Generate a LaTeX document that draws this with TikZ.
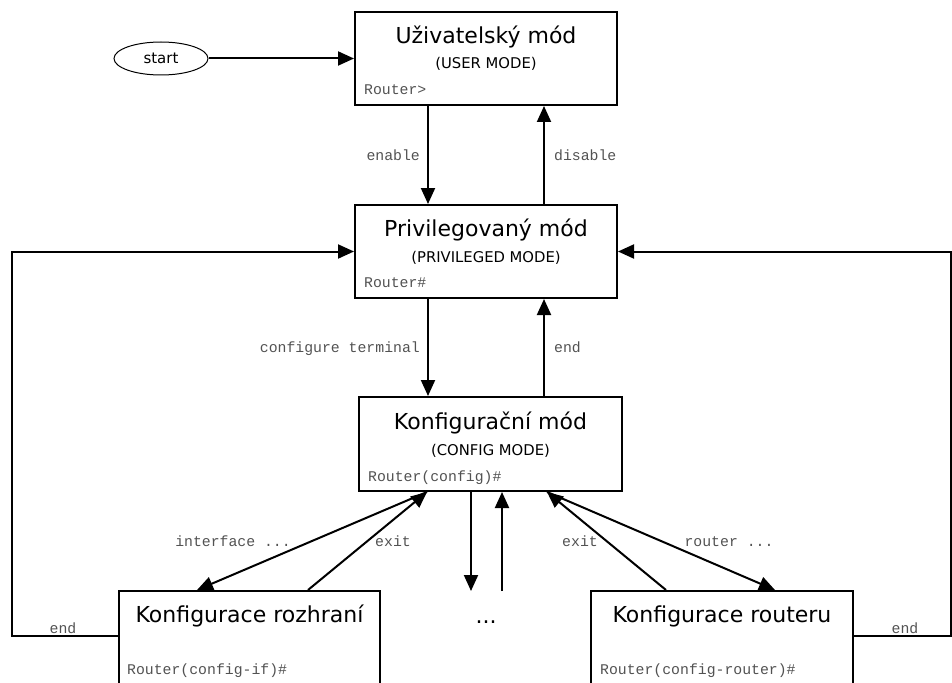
\documentclass[tikz,border=0pt]{standalone}
\usepackage{fontspec}
\setmainfont{DejaVu Sans}
\newfontfamily\monofont{Liberation Mono}
\usetikzlibrary{arrows.meta,shapes.geometric}
\begin{document}
\begin{tikzpicture}[x=1pt,y=-1pt,
  modebox/.style={draw, line width=2pt, rectangle, inner sep=0pt, fill=white},
  titletext/.style={font=\fontsize{22}{26}\selectfont, anchor=base, inner sep=0pt},
  subtext/.style={font=\fontsize{14.8}{17}\selectfont, anchor=base, inner sep=0pt},
  prompt/.style={font=\monofont\fontsize{14.8}{17}\selectfont, text=black!68, anchor=base west, inner sep=0pt},
  lbl/.style={font=\monofont\fontsize{14.8}{17}\selectfont, text=black!68, anchor=base, inner sep=0pt},
  conn/.style={line width=2pt},
  arr/.style={conn, -{Triangle[length=16pt,width=14pt]}},
]
\useasboundingbox (0,0) rectangle (952,682);
\clip (0,0) rectangle (952,682);

% boxes
\node[modebox, minimum width=262pt, minimum height=93pt] (user) at (486,58.5) {};
\node[modebox, minimum width=262pt, minimum height=93pt] (priv) at (486,251.5) {};
\node[modebox, minimum width=263pt, minimum height=94pt] (config) at (490.5,444) {};
\node[modebox, minimum width=261pt, minimum height=120pt] (roz) at (249.5,651) {};
\node[modebox, minimum width=262pt, minimum height=120pt] (rout) at (722,651) {};

% box texts
\node[titletext] (userT) at ([yshift=-33pt]user.north) {Uživatelský mód};
\node[subtext] (userS) at ([yshift=-58pt]user.north) {(USER MODE)};
\node[prompt] (userP) at ([xshift=10pt,yshift=-84pt]user.north west) {Router>};

\node[titletext] (privT) at ([yshift=-32pt]priv.north) {Privilegovaný mód};
\node[subtext] (privS) at ([yshift=-58pt]priv.north) {(PRIVILEGED MODE)};
\node[prompt] (privP) at ([xshift=10pt,yshift=-83pt]priv.north west) {Router\#};

\node[titletext] (confT) at ([yshift=-33pt]config.north) {Konfigurační mód};
\node[subtext] (confS) at ([yshift=-59pt]config.north) {(CONFIG MODE)};
\node[prompt] (confP) at ([xshift=10pt,yshift=-85pt]config.north west) {Router(config)\#};

\node[titletext] (rozT) at ([yshift=-32pt]roz.north) {Konfigurace rozhraní};
\node[prompt] (rozP) at ([xshift=9pt,yshift=-84pt]roz.north west) {Router(config-if)\#};

\node[titletext] (routT) at ([yshift=-32pt]rout.north) {Konfigurace routeru};
\node[prompt] (routP) at ([xshift=10pt,yshift=-84pt]rout.north west) {Router(config-router)\#};

\node[titletext] (dots) at (486,623) {...};

% start
\node[ellipse, draw, line width=1pt, minimum width=94pt, minimum height=33pt, inner sep=0pt,
      font=\fontsize{15}{18}\selectfont] (start) at (161,58.5) {start};

% coordinates
\coordinate (dIn) at (471,591);
\coordinate (dOut) at (502,591);
\coordinate (lc) at (12,251.5);
\coordinate (rc) at (950.5,251.5);

% connectors
\draw[arr] (start.east) -- (user.west);
\draw[arr] ([xshift=-58pt]user.south) -- ([xshift=-58pt]priv.north);
\draw[arr] ([xshift=58pt]priv.north) -- ([xshift=58pt]user.south);
\draw[arr] ([xshift=-58pt]priv.south) -- ([xshift=-62.5pt]config.north);
\draw[arr] ([xshift=53.5pt]config.north) -- ([xshift=58pt]priv.south);
\draw[arr] ([xshift=-19.5pt]config.south) -- (dIn);
\draw[arr] (dOut) -- ([xshift=11.5pt]config.south);

\draw[arr] ([xshift=-63.5pt]config.south) -- ([xshift=-52.5pt]roz.north);
\draw[arr] ([xshift=58.5pt]roz.north) -- ([xshift=-63.5pt]config.south);
\draw[arr] ([xshift=-56pt]rout.north) -- ([xshift=56.5pt]config.south);
\draw[arr] ([xshift=56.5pt]config.south) -- ([xshift=53pt]rout.north);

\draw[arr] ([yshift=-46pt]roz.north west) -| (lc) -- (priv.west);
\draw[arr] ([yshift=-46pt]rout.north east) -| (rc) -- (priv.east);

% labels
\node[lbl, anchor=base east] (lEnable) at (420,160) {enable};
\node[lbl, anchor=base west] (lDisable) at (554,160) {disable};
\node[lbl, anchor=base east] (lConf) at (420,352) {configure terminal};
\node[lbl, anchor=base west] (lEnd) at (554,352) {end};
\node[lbl] (lIf) at (233,546) {interface ...};
\node[lbl] (lExitL) at (393,546) {exit};
\node[lbl] (lExitR) at (580,546) {exit};
\node[lbl] (lRouter) at (729,546) {router ...};
\node[lbl] (lEndL) at (63,633) {end};
\node[lbl] (lEndR) at (905,633) {end};
\end{tikzpicture}
\end{document}
